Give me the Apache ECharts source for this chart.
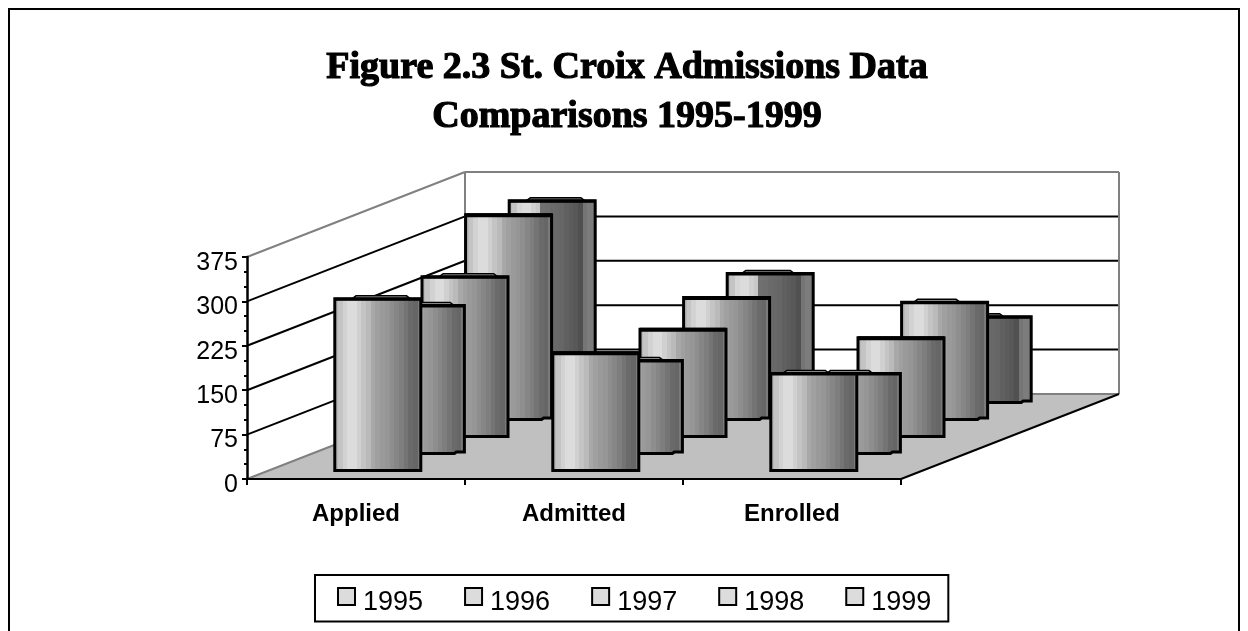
<!DOCTYPE html>
<html><head><meta charset="utf-8">
<style>html,body{margin:0;padding:0;background:#fff}#c{width:1248px;height:631px}</style>
<script src="https://cdn.jsdelivr.net/npm/echarts@6/dist/echarts.min.js"></script>
</head><body><div id="c"></div>
<script>
const categories = ['Applied','Admitted','Enrolled'];
const years = ['1995','1996','1997','1998','1999'];
const v1995 = [290,199,164];
const v1996 = [250,157,135];
const v1997 = [270,181,167];
const v1998 = [346,206,198];
const v1999 = [341,218,145];
const valuesByYear = [v1995,v1996,v1997,v1998,v1999];
const gridTicks = [75,150,225,300];
const yMax = 375;
// cap visibility per year, per category (style only)
const capFlags = [[1,0,1],[1,1,1],[1,0,0],[0,0,1],[1,1,1]];

const DX = 43.6, DY = 17, BAR_W = 86;
const BLK = '#000', GREY = '#808080';
const frontBands = ['#b8b8b8','#c4c4c4','#d2d2d2','#dcdcdc','#dcdcdc','#d0d0d0','#c4c4c4','#bababa','#a8a8a8','#a0a0a0','#9a9a9a','#969696','#8e8e8e','#868686','#7e7e7e','#747474','#6a6a6a','#666666','#7a7a7a'];
const backBands  = ['#b8b8b8','#c4c4c4','#d6d6d6','#dcdcdc','#dcdcdc','#d0d0d0','#c8c8c8','#707070','#6e6e6e','#6a6a6a','#686868','#666666','#606060','#5c5c5c','#585858','#505050','#757575','#7c7c7c','#7c7c7c'];
function bandFill(bands){
  const st=[];const n=bands.length;
  bands.forEach((c,i)=>{st.push({offset:i/n,color:c});st.push({offset:(i+1)/n,color:c});});
  return new echarts.graphic.LinearGradient(0,0,1,0,st);
}
function poly(points,style){return {type:'polygon',shape:{points},style};}
function line(a,b,color,w){return {type:'line',shape:{x1:a[0],y1:a[1],x2:b[0],y2:b[1]},style:{stroke:color,lineWidth:w},silent:true};}

function renderScene(params,api){
  const band = api.size([1,0])[0];
  const left = api.coord([0,0])[0]-band/2;
  const right = api.coord([categories.length-1,0])[0]+band/2;
  const y = v=>api.coord([0,v])[1];
  const bx = 5*DX, by = 5*DY;
  const ch=[];
  ch.push(poly([[left,y(0)],[right,y(0)],[right+bx,y(0)-by],[left+bx,y(0)-by]],{fill:'#c0c0c0'}));
  gridTicks.forEach(t=>{
    ch.push(line([left,y(t)],[left+bx,y(t)-by],BLK,2));
    ch.push(line([left+bx,y(t)-by],[right+bx,y(t)-by],BLK,2));
  });
  ch.push(line([left,y(yMax)],[left+bx,y(yMax)-by],GREY,2));
  ch.push(line([left+bx,y(yMax)-by],[right+bx,y(yMax)-by],GREY,2));
  ch.push(line([left+bx,y(yMax)-by],[left+bx,y(0)-by],GREY,2));
  ch.push(line([right+bx,y(yMax)-by],[right+bx,y(0)-by],GREY,2));
  ch.push(line([left+bx,y(0)-by],[right+bx,y(0)-by],GREY,2));
  ch.push(line([left,y(0)],[left+bx,y(0)-by],GREY,2));
  ch.push(line([right,y(0)],[right+bx,y(0)-by],BLK,2));
  return {type:'group',children:ch};
}
function cylinder(yi){
  const fill = bandFill(yi===4?backBands:frontBands);
  const capFill = yi===4?'#8a8a8a':'#b4b4b4';
  return function(params,api){
    const c=api.value(0), v=api.value(1);
    const p0=api.coord([c,0]), p1=api.coord([c,v]);
    const off=yi+0.5;
    const xc=p0[0]+DX*off;
    const x0=xc-BAR_W/2, x1=xc+BAR_W/2;
    const yb=p0[1]-DY*off, yt=p1[1]-DY*off;
    const notch = yi===1||yi===3||yi===4;
    const pts=[[x0,yt],[x1,yt],[x1,notch?yb-1.5:yb]];
    if(notch){pts.push([x1-8,yb-1.5],[x1-10,yb]);}
    pts.push([x0,yb]);
    const ch=[];
    if(capFlags[yi][c]){
      const a=x0+BAR_W*(0.2-0.03*c), b=x0+BAR_W*(0.88-0.1*c);
      ch.push(poly([[a,yt],[a+4,yt-3],[b-4,yt-3],[b,yt]],{fill:capFill,stroke:BLK,lineWidth:1.5}));
    }
    ch.push(poly(pts,{fill,stroke:BLK,lineWidth:3,lineJoin:'miter'}));
    ch.push(line([x0,yt+0.5],[x1,yt+0.5],BLK,capFlags[yi][c]?3:4));
    return {type:'group',children:ch};
  };
}
const series=[{type:'custom',name:'scene',silent:true,z:1,data:[[0,0]],renderItem:renderScene,clip:false}];
for(let i=4;i>=0;i--){
  series.push({type:'custom',name:years[i],z:2+(4-i),silent:true,clip:false,
    itemStyle:{color:'#dcdcdc'},
    encode:{x:0,y:1},
    data:valuesByYear[i].map((v,c)=>[c,v]),
    renderItem:cylinder(i)});
}
const chart=echarts.init(document.getElementById('c'),null,{renderer:'canvas'});
chart.setOption({
  animation:false,
  backgroundColor:'#fff',
  graphic:[{type:'rect',shape:{x:9,y:9,width:1230,height:700},style:{fill:'none',stroke:'#000',lineWidth:2},z:0,silent:true}],
  title:{text:'Figure 2.3 St. Croix Admissions Data\nComparisons 1995-1999',left:622,top:39,textAlign:'center',
    textStyle:{fontFamily:'"Liberation Serif"',fontWeight:'bold',fontSize:38,lineHeight:49,color:'#000',textBorderColor:'#000',textBorderWidth:1.2}},
  legend:{left:315,top:575,padding:[12,17,5,22],itemGap:41,itemWidth:17,itemHeight:17,borderColor:'#000',borderWidth:2,
    selectedMode:false,
    formatter:n=>'{t|'+n+'}',
    textStyle:{rich:{t:{fontFamily:'"Liberation Sans"',fontSize:27,color:'#000',padding:[13,0,0,3]}}},
    data:years.map(n=>({name:n,icon:'rect',itemStyle:{color:'#dcdcdc',borderColor:'#000',borderWidth:2}}))},
  grid:{left:247,top:257,width:654,height:222,containLabel:false},
  xAxis:{type:'category',data:categories,z:10,
    axisLine:{lineStyle:{color:'#000',width:2}},
    axisTick:{show:true,length:6,lineStyle:{color:'#000',width:2},alignWithLabel:false},
    axisLabel:{margin:23,fontFamily:'"Liberation Sans"',fontWeight:'bold',fontSize:24,color:'#000',interval:0},
    splitLine:{show:false}},
  yAxis:{type:'value',min:0,max:yMax,interval:75,z:10,
    axisLine:{show:true,lineStyle:{color:'#000',width:2.5}},
    axisTick:{show:true,length:5,lineStyle:{color:'#000',width:2}},
    minorTick:{show:true,splitNumber:3,length:3,lineStyle:{color:'#000',width:2}},
    axisLabel:{margin:9,fontFamily:'"Liberation Sans"',fontSize:25,color:'#000',verticalAlign:'top',lineHeight:12},
    splitLine:{show:false}},
  series
});
</script></body></html>
